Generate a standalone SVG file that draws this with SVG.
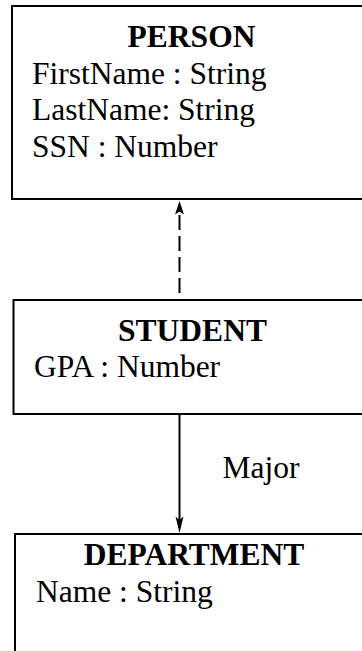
<svg xmlns="http://www.w3.org/2000/svg" width="362" height="651" viewBox="0 0 362 651">
  <style>
    .box { fill: #ffffff; stroke: #000000; stroke-width: 2; }
    .title { font-family: "Liberation Serif", "Times New Roman", serif; font-size: 31.5px; font-weight: bold; fill: #000; text-anchor: middle; }
    .attr { font-family: "Liberation Serif", "Times New Roman", serif; font-size: 31.5px; fill: #000; }
    .line { stroke: #000; stroke-width: 2; fill: none; }
    .head { fill: #000; stroke: none; }
  </style>
  <rect width="362" height="651" fill="#ffffff"/>

  <g id="person">
    <rect class="box" x="12" y="6" width="420" height="193"/>
    <text class="title" x="191.5" y="47">PERSON</text>
    <text class="attr" x="32" y="83.5">FirstName : String</text>
    <text class="attr" x="32" y="120">LastName: String</text>
    <text class="attr" x="32" y="156.5">SSN : Number</text>
  </g>

  <g id="student">
    <rect class="box" x="13.5" y="300" width="420" height="114"/>
    <text class="title" x="192.5" y="341">STUDENT</text>
    <text class="attr" x="34" y="377">GPA : Number</text>
  </g>

  <g id="department">
    <rect class="box" x="15" y="534" width="420" height="200"/>
    <text class="title" x="194" y="565">DEPARTMENT</text>
    <text class="attr" x="36" y="602">Name : String</text>
  </g>

  <g id="connectors">
    <!-- generalization: STUDENT to PERSON, dashed -->
    <line class="line" x1="179.5" y1="215" x2="179.5" y2="299" stroke-dasharray="15 6"/>
    <path class="head" d="M179.5,201 L184,214.5 L179.5,211.5 L175,214.5 Z"/>
    <!-- association: STUDENT to DEPARTMENT -->
    <line class="line" x1="179.5" y1="414" x2="179.5" y2="528"/>
    <path class="head" d="M179.5,533 L183.5,516.5 L179.5,520 L175.5,516.5 Z"/>
    <text class="attr" x="222.5" y="478">Major</text>
  </g>
</svg>
